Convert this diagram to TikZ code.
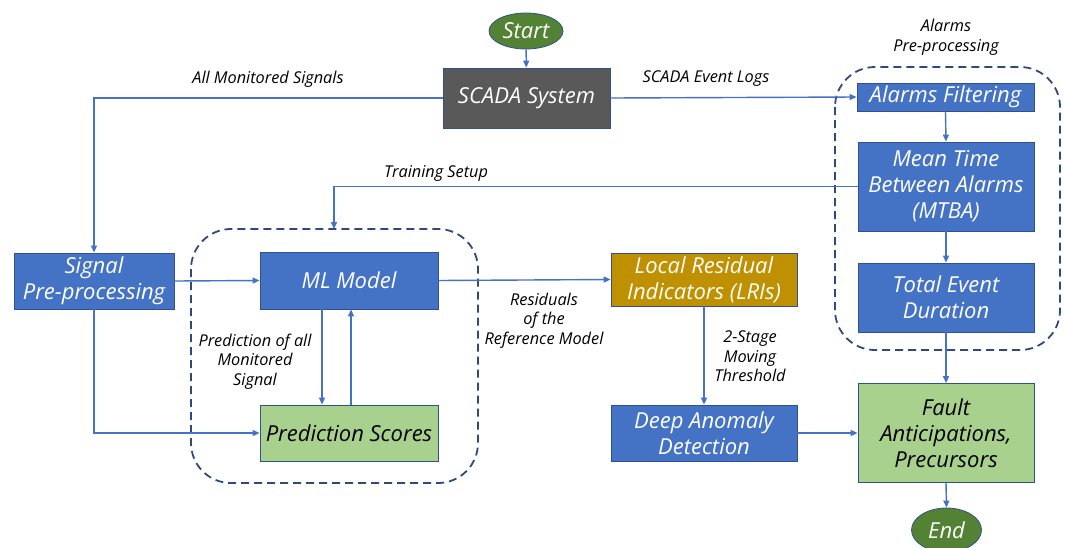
\documentclass[tikz,border=0pt]{standalone}
\usepackage{fontspec}
\setmainfont{Open Sans}
\usetikzlibrary{shapes.geometric,arrows.meta}
\definecolor{bl}{HTML}{4472C4}
\definecolor{bd}{HTML}{2F528F}
\definecolor{gr}{HTML}{A9D18E}
\definecolor{gd}{HTML}{BF9000}
\definecolor{dg}{HTML}{595959}
\definecolor{og}{HTML}{548235}
\definecolor{dash}{HTML}{2F4A7A}
\begin{document}
\begin{tikzpicture}[x=1pt,y=-1pt,
  box/.style={draw=bd,line width=0.8pt,inner sep=0pt,align=center,text=white,
    font=\itshape\fontsize{22}{26}\selectfont},
  bluebox/.style={box,fill=bl},
  greenbox/.style={box,fill=gr,text=black},
  oval/.style={ellipse,draw=bd,line width=0.8pt,fill=og,inner sep=0pt,text=white,
    font=\itshape\fontsize{22}{26}\selectfont},
  lbl/.style={align=center,inner sep=0pt,font=\itshape\fontsize{16.3}{19.5}\selectfont},
  arr/.style={draw=bl,line width=1.4pt,-{Triangle[length=7pt,width=6pt]}},
  grp/.style={draw=dash,line width=1.8pt,dash pattern=on 8pt off 5pt,rounded corners=40pt}
]
\useasboundingbox (0,0) rectangle (1065,547);

% groups
\draw[grp] (191,229) rectangle (478,483);
\draw[grp] (835,67) rectangle (1060,350);

% nodes
\node[oval,minimum width=74pt,minimum height=36pt] (start) at (526,31) {Start};
\node[box,fill=dg,minimum width=167pt,minimum height=60pt] (scada) at (526.5,98) {SCADA System};
\node[bluebox,minimum width=160pt,minimum height=56pt] (sig) at (94,281) {Signal\\Pre-processing};
\node[bluebox,minimum width=178pt,minimum height=57pt] (ml) at (349,280.5) {ML Model};
\node[greenbox,minimum width=178pt,minimum height=56pt] (ps) at (349,433) {Prediction Scores};
\node[box,fill=gd,minimum width=186pt,minimum height=53pt] (lri) at (704,279.5) {Local Residual\\Indicators (LRIs)};
\node[bluebox,minimum width=186pt,minimum height=56pt] (da) at (704,433) {Deep Anomaly\\Detection};
\node[bluebox,minimum width=177pt,minimum height=28pt] (af) at (945.5,97) {Alarms Filtering};
\node[bluebox,minimum width=176pt,minimum height=89pt] (mtba) at (946,186.5) {Mean Time\\Between Alarms\\(MTBA)};
\node[bluebox,minimum width=176pt,minimum height=69pt] (ted) at (946,297.5) {Total Event\\Duration};
\node[greenbox,minimum width=176pt,minimum height=99pt] (fault) at (946,433) {Fault\\Anticipations,\\Precursors};
\node[oval,minimum width=70pt,minimum height=44pt] (end) at (946.5,530) {End};
\coordinate (mltop) at (334,229);

% labels
\node[lbl] (l1) at (268,79) {All Monitored Signals};
\node[lbl] (l2) at (706,79) {SCADA Event Logs};
\node[lbl] (l3) at (946,37.5) {Alarms\\Pre-processing};
\node[lbl] (l4) at (436,173) {Training Setup};
\node[lbl] (l5) at (255,361.5) {Prediction of all\\Monitored\\Signal};
\node[lbl] (l6) at (544,320.5) {Residuals\\of the\\Reference Model};
\node[lbl] (l7) at (750,356.5) {2-Stage\\Moving\\Threshold};

% connectors
\draw[arr] (start) -- (scada);
\draw[arr] (scada.west) -| (sig.north);
\draw[arr] (scada.east) -- (af.west);
\draw[arr] (sig.east) -- (ml.west);
\draw[arr] (sig.south) |- (ps.west);
\draw[arr] ([xshift=-27pt]ml.south) -- ([xshift=-27pt]ps.north);
\draw[arr] ([xshift=2pt]ps.north) -- ([xshift=2pt]ml.south);
\draw[arr] (ml.east) -- (lri.west);
\draw[arr] (lri.south) -- (da.north);
\draw[arr] (da.east) -- (fault.west);
\draw[arr] (af.south) -- (mtba.north);
\draw[arr] (mtba.south) -- (ted.north);
\draw[arr] (ted.south) -- (fault.north);
\draw[arr] (fault.south) -- (end.north);
\draw[arr] (mtba.west) -| (mltop);
\end{tikzpicture}
\end{document}
